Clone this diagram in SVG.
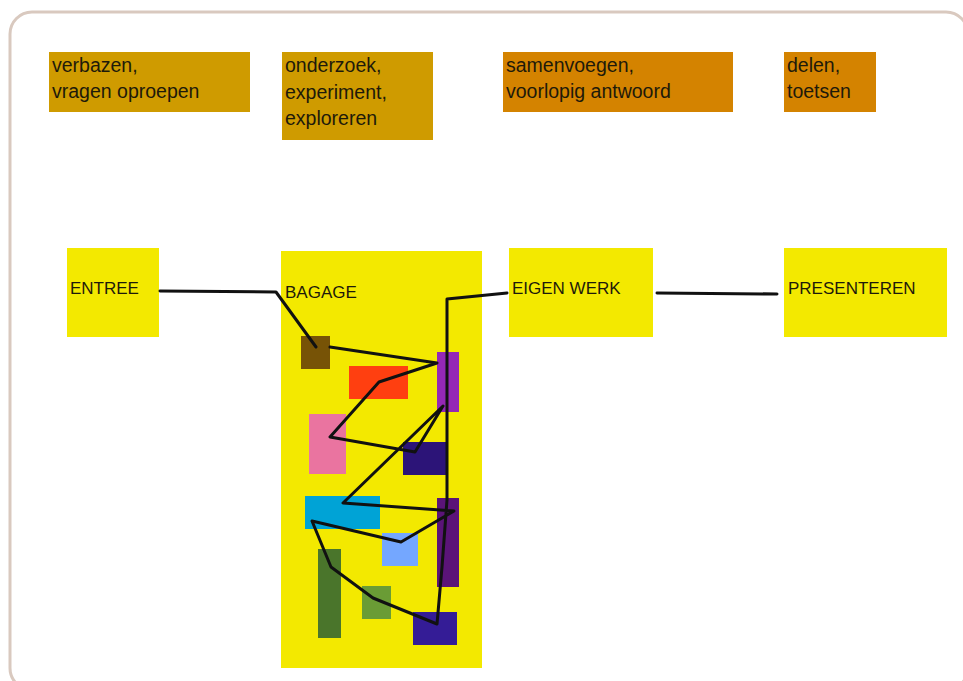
<svg xmlns="http://www.w3.org/2000/svg" width="963" height="681" viewBox="0 0 963 681">
<style>
.lbl{font-family:"Liberation Sans",Arial,sans-serif;fill:#1e1a0a}
.top{font-size:19.5px}
.node{font-size:17px}
.ochre{fill:#cf9b00}
.orange{fill:#d48300}
.yel{fill:#f3e900}
.conn{fill:none;stroke:#111;stroke-width:3;stroke-linejoin:round;stroke-linecap:round}
</style>
<rect x="10" y="12" width="958" height="678" rx="22" fill="#fff" stroke="#d9c9bf" stroke-width="3"/>
<g id="phase1"><rect class="ochre" x="49" y="52" width="201" height="60"/><text class="lbl top" x="52"><tspan x="52" y="72">verbazen,</tspan><tspan x="52" y="98">vragen oproepen</tspan></text></g>
<g id="phase2"><rect class="ochre" x="282" y="52" width="151" height="88"/><text class="lbl top"><tspan x="285" y="72">onderzoek,</tspan><tspan x="285" y="99">experiment,</tspan><tspan x="285" y="125">exploreren</tspan></text></g>
<g id="phase3"><rect class="orange" x="503" y="52" width="230" height="60"/><text class="lbl top"><tspan x="506" y="72">samenvoegen,</tspan><tspan x="506" y="98">voorlopig antwoord</tspan></text></g>
<g id="phase4"><rect class="orange" x="784" y="52" width="92" height="60"/><text class="lbl top"><tspan x="787" y="72">delen,</tspan><tspan x="787" y="98">toetsen</tspan></text></g>
<g id="entree"><rect class="yel" x="67" y="248" width="92" height="89"/><text class="lbl node" x="70" y="294">ENTREE</text></g>
<g id="bagage"><rect class="yel" x="281" y="251" width="201" height="417"/><text class="lbl node" x="285" y="298">BAGAGE</text>
<rect x="301" y="336" width="29" height="33" fill="#775306"/>
<rect x="349" y="366" width="59" height="33" fill="#ff3f10"/>
<rect x="437" y="352" width="22" height="60" fill="#9428b6"/>
<rect x="309" y="414" width="37" height="60" fill="#ea74a0"/>
<rect x="403" y="442" width="44" height="33" fill="#2c1478"/>
<rect x="305" y="496" width="75" height="33" fill="#00a3d6"/>
<rect x="382" y="533" width="36" height="33" fill="#74a7ff"/>
<rect x="437" y="498" width="22" height="89" fill="#5b1478"/>
<rect x="318" y="549" width="23" height="89" fill="#4a752b"/>
<rect x="362" y="586" width="29" height="33" fill="#6a9c35"/>
<rect x="413" y="612" width="44" height="33" fill="#341c96"/>
</g>
<g id="eigenwerk"><rect class="yel" x="509" y="248" width="144" height="89"/><text class="lbl node" x="512" y="294">EIGEN WERK</text></g>
<g id="presenteren"><rect class="yel" x="784" y="248" width="163" height="89"/><text class="lbl node" x="788" y="294">PRESENTEREN</text></g>
<g id="connectors">
<polyline class="conn" points="160,291 276,292 316,347"/>
<polyline class="conn" points="330,347 437,363 379,382 330,437 415,452 443,406 343,503 454,511 401,542 312,521 331,567 373,598 437,624 442,567 447,500 447,299 507,293"/>
<polyline class="conn" points="657,293 777,294"/>
</g>
</svg>
